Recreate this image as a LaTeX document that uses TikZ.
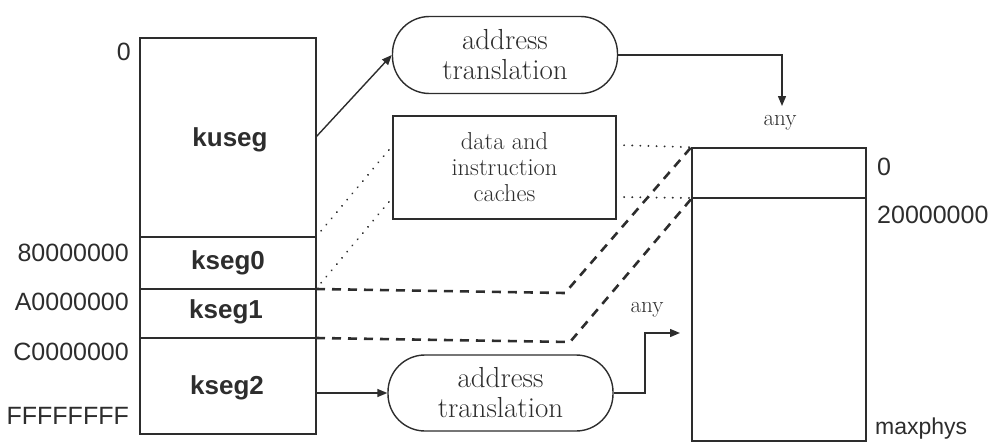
\documentclass[tikz,border=0pt]{standalone}
\usepackage{fontspec}
\newfontfamily\lsans{Liberation Sans}
\usetikzlibrary{arrows.meta}
\definecolor{ink}{RGB}{45,45,45}
\begin{document}
\begin{tikzpicture}[x=1pt,y=-1pt,
  box/.style={draw=ink, line width=1.6pt, inner sep=0pt},
  divider/.style={draw=ink, line width=1.6pt},
  stad/.style={draw=ink, line width=1.4pt, rounded corners=37pt, inner sep=0pt, align=center,
    text=ink, font=\fontsize{29}{30}\selectfont},
  cachebox/.style={draw=ink, line width=1.6pt, inner sep=0pt, align=center,
    text=ink, font=\fontsize{24.5}{26}\selectfont},
  addr/.style={inner sep=0pt, text=ink, font=\lsans\fontsize{25}{25}\selectfont},
  seg/.style={inner sep=0pt, text=ink, font=\lsans\bfseries\fontsize{26}{26}\selectfont},
  lbl/.style={inner sep=0pt, text=ink, font=\fontsize{23}{23}\selectfont},
  arr/.style={draw=ink, line width=1.4pt, -{Triangle[length=10pt,width=8pt]}},
  dots/.style={draw=ink, line width=2pt, line cap=round, dash pattern=on 0.1pt off 8pt},
  dashes/.style={draw=ink, line width=2.6pt, dash pattern=on 9pt off 7pt}
]
\useasboundingbox (0,0) rectangle (988,444);

% virtual address space
\node[box, minimum width=176pt, minimum height=396pt] (virt) at (228,236) {};
\coordinate (d0l) at (140,237); \coordinate (d0r) at (316,237);
\coordinate (d1l) at (140,289); \coordinate (d1r) at (316,289);
\coordinate (d2l) at (140,338); \coordinate (d2r) at (316,338);
\draw[divider] (d0l) -- (d0r);
\draw[divider] (d1l) -- (d1r);
\draw[divider] (d2l) -- (d2r);

\node[seg] (ku) at (230,140) {kuseg};
\node[seg] (k0) at (228,263) {kseg0};
\node[seg] (k1) at (226,312) {kseg1};
\node[seg] (k2) at (227,388) {kseg2};

\node[addr, anchor=east] (l0) at (131,52) {0};
\node[addr, anchor=east] (l8) at (129,253) {80000000};
\node[addr, anchor=east] (lA) at (129,302) {A0000000};
\node[addr, anchor=east] (lC) at (129,352) {C0000000};
\node[addr, anchor=east] (lF) at (129,416) {FFFFFFFF};

% physical memory
\node[box, minimum width=174pt, minimum height=293pt] (phys) at (779,294.5) {};
\coordinate (pdl) at (692,198); \coordinate (pdr) at (866,198);
\draw[divider] (pdl) -- (pdr);
\node[addr, anchor=west] (r0) at (877,167) {0};
\node[addr, anchor=west] (r2) at (877,215) {20000000};
\node[addr, anchor=west, font=\lsans\fontsize{23}{23}\selectfont] (rmax) at (875,429) {maxphys};

% translation and caches
\node[stad, minimum width=225pt, minimum height=77pt] (at1) at (505,55) {address\\translation};
\node[cachebox, minimum width=223pt, minimum height=103pt] (cache) at (504.5,167.5) {data and\\instruction\\caches};
\node[stad, minimum width=225pt, minimum height=76pt] (at2) at (500.5,393) {address\\translation};

% kuseg -> translation -> any
\coordinate (kuout) at (316,137);
\draw[arr] (kuout) -- (at1.west);
\coordinate (any1) at (782,106);
\draw[arr] (at1.east) -| (any1);
\node[lbl] (any1t) at (780,123) {any};

% cached path (dotted)
\coordinate (cw1) at (393,145); \coordinate (cw2) at (393,197);
\coordinate (ce1) at (616,145); \coordinate (ce2) at (616,197);
\draw[dots] (d0r) -- (cw1);
\draw[dots] (d1r) -- (cw2);
\draw[dots] (ce1) -- (phys.north west);
\draw[dots] (ce2) -- (pdl);

% direct mapping (dashed)
\coordinate (b1) at (565,293); \coordinate (b2) at (570,342);
\draw[dashes] (d1r) -- (b1) -- (phys.north west);
\draw[dashes] (d2r) -- (b2) -- (pdl);

% kseg2 -> translation -> any
\coordinate (k2out) at (316,393);
\draw[arr] (k2out) -- (at2.west);
\coordinate (bend) at (645,333); \coordinate (any2) at (680,333);
\draw[arr] (at2.east) -| (bend) -- (any2);
\node[lbl] (any2t) at (647,310) {any};
\end{tikzpicture}
\end{document}
